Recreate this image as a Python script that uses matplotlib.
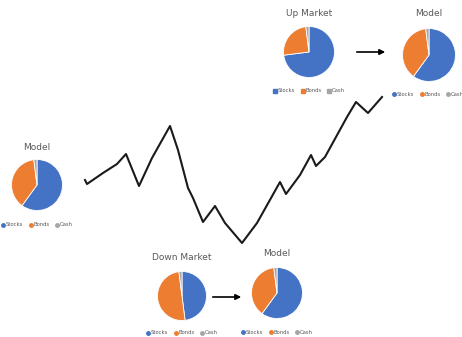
import matplotlib.pyplot as plt
from matplotlib.lines import Line2D

W, H = 462, 337

# market path (arbitrary index)
line_x = [85, 87, 103, 117, 126, 139, 152, 170, 178, 188, 193, 203, 215, 225, 242,
          257, 280, 286, 300, 311, 316, 325, 347, 356, 368, 382]
line_y = [180, 184, 173, 164, 154, 186, 158, 126, 150, 188, 198, 222, 206, 223, 243,
          223, 182, 194, 175, 155, 166, 157, 117, 102, 113, 97]

labels = ['Stocks', 'Bonds', 'Cash']
colors = ['#4472C4', '#ED7D31', '#A5A5A5']
model_mix = [60, 38, 2]
up_mix = [73, 25, 2]
down_mix = [48, 50, 2]

fig = plt.figure(figsize=(W / 100, H / 100), dpi=100)
fig.patch.set_facecolor('white')

# line axes covering the full figure in pixel space
ax = fig.add_axes([0, 0, 1, 1])
ax.set_xlim(0, W)
ax.set_ylim(H, 0)
ax.axis('off')
ax.plot(line_x, line_y, color='#1a1a1a', lw=1.5, solid_joinstyle='round')

# arrows
ax.annotate('', xy=(388, 52), xytext=(354, 52),
            arrowprops=dict(arrowstyle='-|>', color='black', lw=1.2, mutation_scale=8))
ax.annotate('', xy=(244, 297), xytext=(210, 297),
            arrowprops=dict(arrowstyle='-|>', color='black', lw=1.2, mutation_scale=8))


def pie(cx, cy, r, vals, title, ty, lx, ly, marker='o'):
    pax = fig.add_axes([(cx - r) / W, 1 - (cy + r) / H, 2 * r / W, 2 * r / H])
    pax.pie(vals, colors=colors, startangle=90, counterclock=False,
            wedgeprops=dict(edgecolor='white', linewidth=0.6))
    pax.set_xlim(-1.02, 1.02)
    pax.set_ylim(-1.02, 1.02)
    pax.set_aspect('equal')
    ax.text(cx, ty, title, ha='center', va='center', fontsize=6.5, color='#595959')
    handles = [Line2D([], [], marker=marker, ls='', color=c, markersize=2.5) for c in colors]
    fig.legend(handles, labels, loc='center', bbox_to_anchor=(lx / W, 1 - ly / H),
               ncol=3, frameon=False, fontsize=3.8, handletextpad=0.1,
               columnspacing=1.0, handlelength=0.8, labelcolor='#595959')


pie(37, 185, 26, model_mix, 'Model', 147, 37, 225)
pie(309, 52, 26, up_mix, 'Up Market', 14, 309, 91, marker='s')
pie(429, 55, 27, model_mix, 'Model', 14, 428, 94)
pie(182, 296, 25, down_mix, 'Down Market', 257, 182, 333)
pie(277, 293, 26, model_mix, 'Model', 253, 277, 332)

fig.savefig('out.png', dpi=100, facecolor='white')
